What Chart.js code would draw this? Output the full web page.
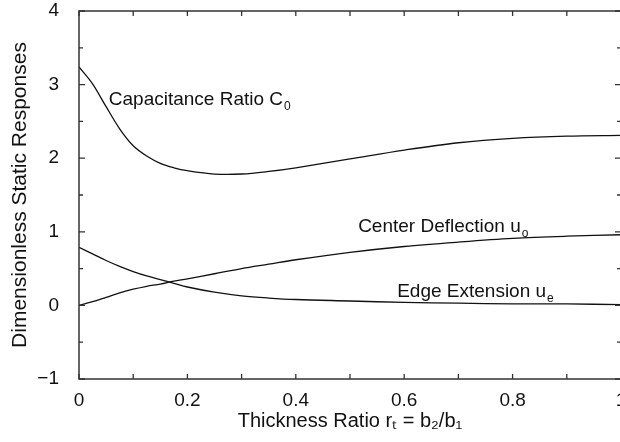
<!DOCTYPE html>
<html>
<head>
<meta charset="utf-8">
<script src="https://cdn.jsdelivr.net/npm/chart.js@4/dist/chart.umd.min.js"></script>
<style>
  html, body { margin: 0; padding: 0; background: #fff; overflow: hidden; }
  #wrap { width: 640px; height: 442px; }
</style>
</head>
<body>
<div id="wrap"><canvas id="myChart" width="640" height="442"></canvas></div>
<script>
// thickness ratio r_t
const thickness = [0, 0.025, 0.05, 0.075, 0.1, 0.125, 0.15, 0.175, 0.2, 0.25, 0.3, 0.35, 0.4, 0.5, 0.6, 0.7, 0.8, 0.9, 1.0];
// responses
const capacitance = [3.24, 3.01, 2.70, 2.40, 2.17, 2.03, 1.93, 1.87, 1.83, 1.785, 1.785, 1.82, 1.87, 1.99, 2.11, 2.21, 2.27, 2.30, 2.31];
const centerDefl = [0, 0.05, 0.11, 0.17, 0.22, 0.26, 0.29, 0.33, 0.36, 0.43, 0.50, 0.56, 0.62, 0.72, 0.80, 0.86, 0.91, 0.94, 0.96];
const edgeExt = [0.79, 0.70, 0.61, 0.53, 0.46, 0.40, 0.35, 0.30, 0.25, 0.18, 0.13, 0.10, 0.08, 0.06, 0.04, 0.03, 0.02, 0.02, 0.01];

const xTicks = [0, 0.2, 0.4, 0.6, 0.8, 1];
const yTicks = [-1, 0, 1, 2, 3, 4];

// curve labels: [main text, subscript, x, y] in data units
const curveLabels = [
  ['Capacitance Ratio C', '0', 0.055, 2.80],
  ['Center Deflection u', 'o', 0.515, 1.07],
  ['Edge Extension u', 'e', 0.587, 0.19]
];

const font = '"Liberation Sans", Arial, Helvetica, sans-serif';
const ink = '#111';

function pts(ys) {
  return thickness.map((x, i) => ({ x: x, y: ys[i] }));
}

// frame, inward ticks and curve labels
const framePlugin = {
  id: 'frame',
  afterDraw(chart) {
    const c = chart.ctx;
    const a = chart.chartArea;
    const xs = chart.scales.x, ys = chart.scales.y;
    c.save();
    c.strokeStyle = '#333';
    c.lineWidth = 1.5;
    c.strokeRect(a.left, a.top, a.right - a.left, a.bottom - a.top);
    c.lineWidth = 1.3;
    c.beginPath();
    for (let v = -1; v <= 4.001; v += 0.5) {
      const p = ys.getPixelForValue(v);
      const len = Math.abs(v - Math.round(v)) < 0.01 ? 6 : 4;
      c.moveTo(a.left, p); c.lineTo(a.left + len, p);
      c.moveTo(a.right, p); c.lineTo(a.right - len, p);
    }
    for (let v = 0; v <= 1.001; v += 0.1) {
      const p = xs.getPixelForValue(v);
      c.moveTo(p, a.bottom); c.lineTo(p, a.bottom - 5);
      c.moveTo(p, a.top); c.lineTo(p, a.top + 5);
    }
    c.stroke();

    c.fillStyle = ink;
    c.textBaseline = 'middle';
    c.textAlign = 'left';
    curveLabels.forEach(l => {
      const px = xs.getPixelForValue(l[2]);
      const py = ys.getPixelForValue(l[3]);
      c.font = '19px ' + font;
      c.fillText(l[0], px, py);
      const w = c.measureText(l[0]).width;
      c.font = '12px ' + font;
      c.fillText(l[1], px + w + 1, py + 7);
    });
    c.restore();
  }
};

const ctx = document.getElementById('myChart').getContext('2d');
const myChart = new Chart(ctx, {
  type: 'line',
  data: {
    datasets: [
      { label: 'Capacitance Ratio', data: pts(capacitance) },
      { label: 'Center Deflection', data: pts(centerDefl) },
      { label: 'Edge Extension', data: pts(edgeExt) }
    ]
  },
  options: {
    responsive: false,
    animation: false,
    devicePixelRatio: 1,
    layout: { padding: { top: 11, right: 19, left: 0, bottom: 0 } },
    elements: {
      line: { borderColor: ink, borderWidth: 1.3, tension: 0.35, fill: false },
      point: { radius: 0 }
    },
    plugins: {
      legend: { display: false },
      tooltip: { enabled: false }
    },
    scales: {
      x: {
        type: 'linear',
        min: 0, max: 1,
        afterBuildTicks: s => { s.ticks = xTicks.map(v => ({ value: v })); },
        afterFit: s => { s.height = 63; s.paddingLeft = 0; s.paddingRight = 0; },
        grid: { display: false },
        border: { display: false },
        ticks: {
          color: ink, padding: 2,
          font: { family: font, size: 19 },
          callback: v => (v === 0 || v === 1) ? String(v) : v.toFixed(1)
        },
        title: {
          display: true,
          text: 'Thickness Ratio r\u209C = b\u2082/b\u2081',
          color: ink, padding: { top: 0, bottom: 9 },
          font: { family: font, size: 20 }
        }
      },
      y: {
        min: -1, max: 4,
        afterBuildTicks: s => { s.ticks = yTicks.map(v => ({ value: v })); },
        afterFit: s => { s.width = 79; s.paddingTop = 0; s.paddingBottom = 0; },
        grid: { display: false },
        border: { display: false },
        ticks: {
          color: ink, padding: 12,
          font: { family: font, size: 19 },
          callback: v => v < 0 ? '\u2212' + Math.abs(v) : String(v)
        },
        title: {
          display: true,
          text: 'Dimensionless Static Responses',
          color: ink, padding: { top: 8, bottom: 0 },
          font: { family: font, size: 21 }
        }
      }
    }
  },
  plugins: [framePlugin]
});
</script>
</body>
</html>
